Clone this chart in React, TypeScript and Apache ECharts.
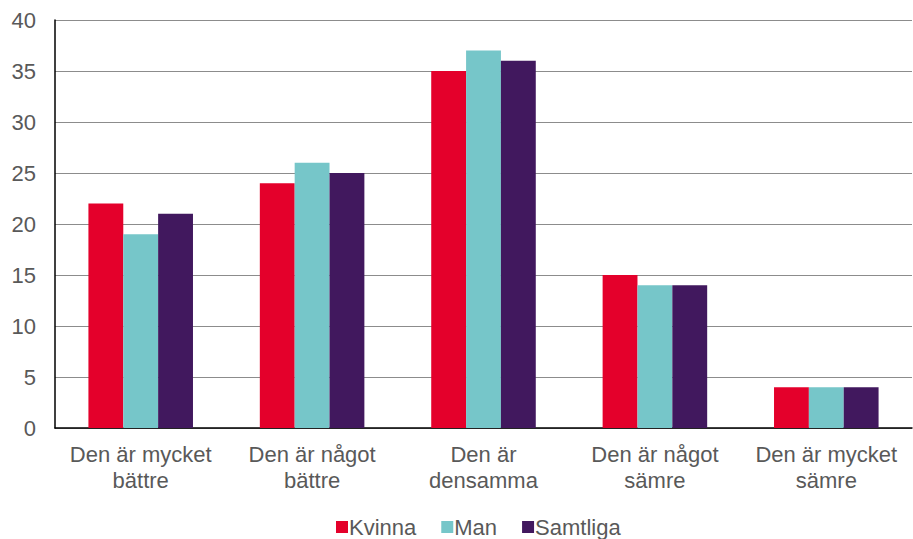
import React, { useEffect, useRef } from "react";
import * as echarts from "echarts";

const categories = [
  "Den är mycket\nbättre",
  "Den är något\nbättre",
  "Den är\ndensamma",
  "Den är något\nsämre",
  "Den är mycket\nsämre",
];
const kvinna = [22, 24, 35, 15, 4];
const man = [19, 26, 37, 14, 4];
const samtliga = [21, 25, 36, 14, 4];

export default function App() {
  const ref = useRef<HTMLDivElement>(null);
  useEffect(() => {
    if (!ref.current) return;
    const chart = echarts.init(ref.current, undefined, { renderer: "svg" });
    const font = "'Liberation Sans', Arial, sans-serif";
    chart.setOption({
      animation: false,
      textStyle: { fontFamily: font },
      grid: { left: 55, right: 1, top: 20, bottom: 111, containLabel: false },
      legend: {
        bottom: -4,
        left: 331,
        itemWidth: 12,
        itemHeight: 12,
        itemGap: 25,
        icon: "rect",
        textStyle: { fontSize: 22, color: "#595959", fontFamily: font, padding: [0, 0, 0, -4] },
        data: ["Kvinna", "Man", "Samtliga"],
      },
      xAxis: {
        type: "category",
        data: categories,
        axisLine: { lineStyle: { color: "#000", width: 1.5 } },
        axisTick: { show: false },
        axisLabel: { fontSize: 22, color: "#595959", fontFamily: font, lineHeight: 26, margin: 13, interval: 0 },
      },
      yAxis: {
        type: "value",
        min: 0,
        max: 40,
        interval: 5,
        axisLine: { show: true, lineStyle: { color: "#000", width: 1.5 } },
        axisTick: { show: false },
        axisLabel: { fontSize: 22, color: "#595959", fontFamily: font, margin: 19 },
        splitLine: { lineStyle: { color: "#8c8c8c", width: 1 } },
      },
      series: [
        { name: "Kvinna", type: "bar", data: kvinna, itemStyle: { color: "#E4002B" }, barGap: "0%", barCategoryGap: "39%" },
        { name: "Man", type: "bar", data: man, itemStyle: { color: "#76C6C9" } },
        { name: "Samtliga", type: "bar", data: samtliga, itemStyle: { color: "#41185E" } },
      ],
    });
    return () => chart.dispose();
  }, []);
  return <div ref={ref} style={{ width: 913, height: 539, position: "absolute", left: 0, top: 0 }} />;
}
